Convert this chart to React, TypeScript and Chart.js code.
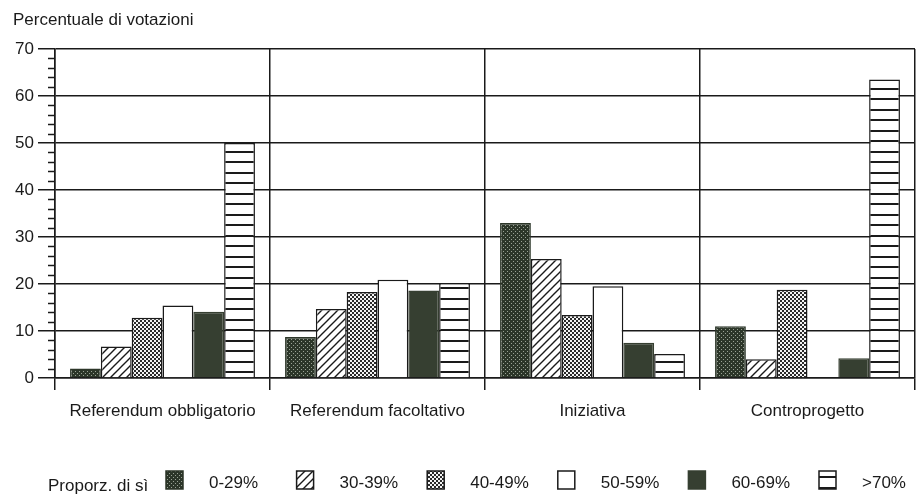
import React, { useEffect, useRef } from 'react';
import { Chart, registerables } from 'chart.js';

Chart.register(...registerables);

// ---- data ----
const categories = ['Referendum obbligatorio', 'Referendum facoltativo', 'Iniziativa', 'Controprogetto'];
const seriesLabels = ['0-29%', '30-39%', '40-49%', '50-59%', '60-69%', '>70%'];
const s0to29 = [2, 8.7, 33, 11];
const s30to39 = [6.7, 14.7, 25.3, 4];
const s40to49 = [12.8, 18.3, 13.4, 18.8];
const s50to59 = [15.4, 20.9, 19.5, 0];
const s60to69 = [14.1, 18.6, 7.5, 4.2];
const s70plus = [50, 20.2, 5.1, 63.5];
const yMin = 0;
const yMax = 70;
const yStep = 10;
const yMinorStep = 2;
const yTitle = 'Percentuale di votazioni';
const legendTitle = 'Proporz. di sì';

const FONT = "'Liberation Sans', Arial, sans-serif";
const INK = '#1a1a1a';
const DARK = '#2c3629';
const OLIVE = '#363f31';

function makePattern(target: CanvasRenderingContext2D, kind: string): CanvasPattern | string {
  const c = document.createElement('canvas');
  const g = c.getContext('2d')!;
  if (kind === 'dots') {
    c.width = 4; c.height = 4;
    g.fillStyle = DARK; g.fillRect(0, 0, 4, 4);
    g.fillStyle = '#9aa295'; g.fillRect(1, 1, 1, 1); g.fillRect(3, 3, 1, 1);
  } else if (kind === 'diag') {
    c.width = 8; c.height = 8;
    g.fillStyle = '#fff'; g.fillRect(0, 0, 8, 8);
    g.strokeStyle = INK; g.lineWidth = 1.4;
    g.beginPath();
    g.moveTo(-1, 9); g.lineTo(9, -1);
    g.moveTo(-3, 3); g.lineTo(3, -3);
    g.moveTo(5, 11); g.lineTo(11, 5);
    g.stroke();
  } else if (kind === 'checker') {
    c.width = 4; c.height = 4;
    g.fillStyle = '#f4f4f4'; g.fillRect(0, 0, 4, 4);
    g.fillStyle = '#2a2a2a'; g.fillRect(0, 0, 2, 2); g.fillRect(2, 2, 2, 2);
  } else if (kind === 'hlines') {
    c.width = 8; c.height = 21;
    g.fillStyle = '#fff'; g.fillRect(0, 0, 8, 21);
    g.fillStyle = INK; g.fillRect(0, 4, 8, 2); g.fillRect(0, 14, 8, 2);
  } else if (kind === 'solid') {
    return OLIVE;
  } else {
    return '#ffffff';
  }
  return target.createPattern(c, 'repeat') as CanvasPattern;
}

const patternKinds = ['dots', 'diag', 'checker', 'white', 'solid', 'hlines'];
const borderColors = [DARK, INK, INK, INK, OLIVE, INK];

const decorPlugin = {
  id: 'decor',
  afterDraw(chart: any) {
    const ctx: CanvasRenderingContext2D = chart.ctx;
    const y = chart.scales.y;
    ctx.save();
    // minor ticks on y axis
    ctx.strokeStyle = INK;
    ctx.lineWidth = 1.5;
    const left = chart.chartArea.left;
    for (let v = yMin; v <= yMax; v += yMinorStep) {
      if (v % yStep === 0) continue;
      const py = Math.round(y.getPixelForValue(v)) + 0.5;
      ctx.beginPath();
      ctx.moveTo(left - 7, py);
      ctx.lineTo(left, py);
      ctx.stroke();
    }
    // axis title
    ctx.fillStyle = INK;
    ctx.font = `17px ${FONT}`;
    ctx.textAlign = 'left';
    ctx.textBaseline = 'alphabetic';
    ctx.fillText(yTitle, 13, 25);
    // legend
    ctx.fillText(legendTitle, 48, 491);
    const ds = chart.data.datasets;
    for (let i = 0; i < ds.length; i++) {
      const bx = 166 + i * 130.6;
      const by = 471;
      ctx.fillStyle = ds[i].backgroundColor;
      ctx.fillRect(bx, by, 17, 18);
      ctx.strokeStyle = ds[i].borderColor;
      ctx.lineWidth = 1.5;
      ctx.strokeRect(bx, by, 17, 18);
      ctx.fillStyle = INK;
      ctx.fillText(ds[i].label, bx + 43, 488);
    }
    ctx.restore();
  },
};

export default function App() {
  const ref = useRef<HTMLCanvasElement | null>(null);
  useEffect(() => {
    document.body.style.margin = '0';
    const canvas = ref.current!;
    const ctx = canvas.getContext('2d')!;
    const series = [s0to29, s30to39, s40to49, s50to59, s60to69, s70plus];
    const chart = new Chart(canvas, {
      type: 'bar',
      data: {
        labels: categories,
        datasets: series.map((d, i) => ({
          label: seriesLabels[i],
          data: d,
          backgroundColor: makePattern(ctx, patternKinds[i]) as any,
          borderColor: borderColors[i],
          borderWidth: 1.5,
          categoryPercentage: 0.86,
          barPercentage: 1.0,
        })),
      },
      options: {
        responsive: false,
        animation: false,
        devicePixelRatio: 1,
        layout: { padding: { top: 49, right: 8, bottom: 0, left: 0 } },
        plugins: {
          legend: { display: false },
          tooltip: { enabled: false },
          title: { display: false },
        },
        scales: {
          x: {
            type: 'category',
            offset: true,
            grid: {
              offset: true,
              color: INK,
              lineWidth: 1.5,
              tickLength: 12,
              tickColor: INK,
            },
            border: { display: true, color: INK, width: 1.5 },
            ticks: {
              color: INK,
              font: { family: FONT, size: 17 },
              padding: 11,
              maxRotation: 0,
              autoSkip: false,
            },
            afterFit: (s: any) => { s.height = 117; },
          },
          y: {
            min: yMin,
            max: yMax,
            grid: {
              color: INK,
              lineWidth: 1.5,
              tickLength: 17,
              tickColor: INK,
            },
            border: { display: true, color: INK, width: 1.5 },
            ticks: {
              stepSize: yStep,
              color: INK,
              font: { family: FONT, size: 17 },
              padding: 4,
            },
            afterFit: (s: any) => { s.width = 55; },
          },
        },
      },
      plugins: [decorPlugin],
    });
    return () => chart.destroy();
  }, []);
  return (
    <div style={{ width: 923, height: 495 }}>
      <canvas ref={ref} width={923} height={495} style={{ display: 'block' }} />
    </div>
  );
}
